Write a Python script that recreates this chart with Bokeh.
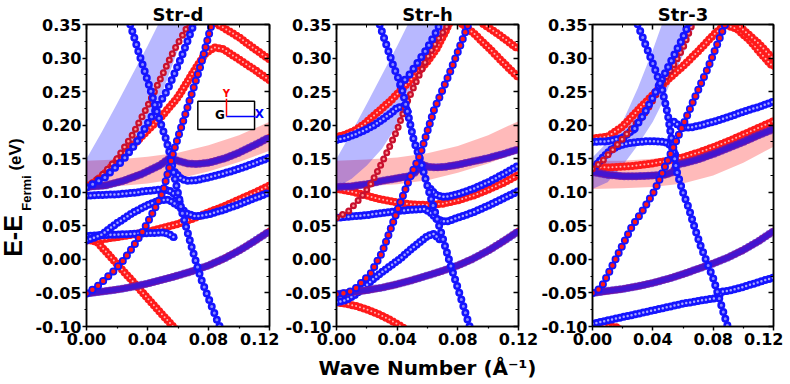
import math
from bokeh.plotting import figure
from bokeh.layouts import row
from bokeh.models import FixedTicker, PrintfTickFormatter, LinearAxis, Label, Range1d
from bokeh.core.properties import value
from bokeh.embed import file_html
from bokeh.resources import INLINE

# ---------------- axes / text ----------------
TITLES = ["Str-d", "Str-h", "Str-3"]
X_LABEL = "Wave Number (\u00c5\u207b\u00b9)"
Y_LABEL_PARTS = ["E-E", "Fermi", "(eV)"]
X_TICKS = [0.0, 0.04, 0.08, 0.12]
X_MINOR = [0.02, 0.06, 0.10]
Y_TICKS = [-0.10, -0.05, 0.0, 0.05, 0.10, 0.15, 0.20, 0.25, 0.30, 0.35]
Y_MINOR = [-0.075, -0.025, 0.025, 0.075, 0.125, 0.175, 0.225, 0.275, 0.325]
KG = [0.0, 0.01, 0.02, 0.03, 0.04, 0.05, 0.06, 0.07, 0.08, 0.09, 0.10, 0.11, 0.12]

# ---------------- panel Str-d ----------------
D_PAR_E = [-0.051, -0.048, -0.045, -0.041, -0.036, -0.030, -0.024, -0.017, -0.009, 0.001, 0.013, 0.027, 0.042]
D_DIRAC_K = [0.0, 0.0066, 0.018, 0.024, 0.030, 0.037, 0.044, 0.050, 0.057, 0.066, 0.075, 0.082, 0.086]
D_DIRAC_E = [-0.051, -0.0415, -0.017, -0.002, 0.017, 0.042, 0.072, 0.10, 0.16, 0.225, 0.29, 0.35, 0.38]
D_RDESC_K = [0.0, 0.007, 0.02, 0.03, 0.04, 0.05, 0.06]
D_RDESC_E = [0.03, 0.026, -0.007, -0.032, -0.058, -0.083, -0.108]
D_RRISE_E = [0.028, 0.030, 0.033, 0.037, 0.041, 0.047, 0.053, 0.061, 0.070, 0.079, 0.089, 0.099, 0.110]
D_BFLAT_K = [0.0, 0.01, 0.02, 0.03, 0.04, 0.05, 0.054, 0.058]
D_BFLAT_E = [0.035, 0.036, 0.037, 0.038, 0.039, 0.040, 0.038, 0.032]
D_BSTEEP_K = [0.026, 0.029, 0.034, 0.040, 0.0466, 0.052, 0.0547, 0.058, 0.0627, 0.069, 0.0748, 0.080, 0.0857, 0.090]
D_BSTEEP_E = [0.37, 0.348, 0.31, 0.267, 0.217, 0.18, 0.157, 0.12, 0.070, 0.018, -0.027, -0.058, -0.091, -0.115]
D_BHUMP_K = [0.0, 0.01, 0.02, 0.03, 0.04, 0.048, 0.054, 0.06, 0.066, 0.072, 0.08, 0.09, 0.10, 0.11, 0.12]
D_BHUMP_E = [0.028, 0.037, 0.054, 0.069, 0.081, 0.088, 0.089, 0.080, 0.068, 0.064, 0.067, 0.074, 0.082, 0.091, 0.100]
D_B095_K = [0.0, 0.01, 0.02, 0.03, 0.04, 0.048, 0.054, 0.058, 0.062]
D_B095_E = [0.095, 0.096, 0.097, 0.099, 0.102, 0.104, 0.103, 0.097, 0.086]
D_B152_K = [0.058, 0.062, 0.066, 0.072, 0.08, 0.09, 0.10, 0.11, 0.12]
D_B152_E = [0.13, 0.12, 0.117, 0.118, 0.122, 0.128, 0.135, 0.143, 0.152]
D_P108_K = [0.0, 0.012, 0.024, 0.036, 0.048, 0.054, 0.06, 0.066, 0.072, 0.08, 0.09, 0.10, 0.11, 0.12]
D_P108_E = [0.108, 0.110, 0.117, 0.127, 0.140, 0.150, 0.147, 0.143, 0.142, 0.144, 0.150, 0.159, 0.170, 0.182]
D_RPEAK_K = [0.0, 0.01, 0.02, 0.03, 0.04, 0.05, 0.06, 0.07, 0.078, 0.084, 0.09, 0.10, 0.11, 0.12]
D_RPEAK_E = [0.107, 0.123, 0.147, 0.169, 0.192, 0.215, 0.242, 0.279, 0.307, 0.316, 0.313, 0.298, 0.283, 0.267]
D_RTOP_K = [0.083, 0.086, 0.09, 0.10, 0.11, 0.12]
D_RTOP_E = [0.356, 0.35, 0.345, 0.331, 0.314, 0.298]
D_RCHAIN_K = [0.0, 0.01, 0.02, 0.03, 0.04, 0.047, 0.057, 0.066, 0.07]
D_RCHAIN_E = [0.107, 0.125, 0.15, 0.185, 0.228, 0.262, 0.31, 0.346, 0.365]
D_BCHAIN_K = [0.0, 0.012, 0.024, 0.033, 0.042, 0.053, 0.062, 0.070, 0.074]
D_BCHAIN_E = [0.107, 0.122, 0.148, 0.175, 0.21, 0.252, 0.30, 0.348, 0.37]
D_BSH_K = [0.0, 0.01, 0.02, 0.03, 0.04, 0.047, 0.05, 0.058, 0.066, 0.07]
D_BSH_LO = [0.107, 0.12, 0.14, 0.165, 0.20, 0.232, 0.25, 0.30, 0.35, 0.37]
D_BSH_HI = [0.15, 0.19, 0.232, 0.275, 0.318, 0.35, 0.365, 0.40, 0.44, 0.46]
D_RSH_K = [0.0, 0.02, 0.04, 0.06, 0.08, 0.10, 0.12]
D_RSH_LO = [0.107, 0.109, 0.113, 0.120, 0.131, 0.145, 0.162]
D_RSH_HI = [0.147, 0.149, 0.153, 0.159, 0.170, 0.185, 0.205]

# inset (G-X / G-Y directions) in Str-d
INSET_BOX = [0.0730, 0.1102, 0.1935, 0.2357]      # left, right, bottom, top
INSET_ORIGIN = [0.0918, 0.2129]
INSET_Y_TOP = 0.2393
INSET_X_END = 0.1108

# ---------------- panel Str-h ----------------
H_PAR_E = [-0.052, -0.049, -0.046, -0.042, -0.037, -0.031, -0.024, -0.017, -0.009, 0.001, 0.013, 0.027, 0.042]
H_DIRAC_K = [0.0, 0.006, 0.0114, 0.0224, 0.030, 0.0418, 0.0484, 0.055, 0.0642, 0.0752, 0.0862, 0.09]
H_DIRAC_E = [-0.052, -0.05, -0.046, -0.0215, 0.010, 0.083, 0.122, 0.155, 0.222, 0.281, 0.346, 0.37]
H_BHUMP_K = [0.0, 0.006, 0.012, 0.018, 0.024, 0.030, 0.036, 0.042, 0.048, 0.054, 0.060, 0.064, 0.068]
H_BHUMP_E = [-0.064, -0.061, -0.053, -0.042, -0.030, -0.019, -0.009, 0.001, 0.013, 0.024, 0.035, 0.038, 0.03]
H_RLOW_K = [0.0, 0.006, 0.012, 0.018, 0.024, 0.030, 0.036, 0.042, 0.046]
H_RLOW_E = [-0.064, -0.066, -0.069, -0.073, -0.078, -0.084, -0.091, -0.099, -0.105]
H_BSTEEP_K = [0.026, 0.029, 0.0378, 0.0422, 0.0466, 0.051, 0.0554, 0.062, 0.0686, 0.075, 0.0818, 0.0872, 0.09]
H_BSTEEP_E = [0.37, 0.346, 0.286, 0.262, 0.222, 0.177, 0.147, 0.093, 0.043, -0.007, -0.056, -0.096, -0.115]
H_RUP_K = [0.0, 0.006, 0.012, 0.018, 0.024, 0.030, 0.036, 0.042, 0.048, 0.054, 0.060, 0.066, 0.072, 0.076]
H_RUP_E = [0.182, 0.186, 0.192, 0.201, 0.213, 0.225, 0.237, 0.251, 0.265, 0.28, 0.295, 0.314, 0.34, 0.36]
H_BUP_K = [0.0, 0.006, 0.012, 0.018, 0.024, 0.030, 0.036, 0.040, 0.044, 0.048]
H_BUP_E = [0.178, 0.181, 0.186, 0.192, 0.199, 0.208, 0.218, 0.226, 0.228, 0.22]
H_BCHAIN_K = [0.042, 0.048, 0.054, 0.060, 0.066, 0.070]
H_BCHAIN_E = [0.26, 0.275, 0.295, 0.315, 0.34, 0.36]
H_RCHAIN_K = [0.0, 0.008, 0.016, 0.022, 0.028, 0.034, 0.040, 0.047, 0.054, 0.060, 0.066, 0.073, 0.076]
H_RCHAIN_E = [0.062, 0.072, 0.092, 0.11, 0.135, 0.163, 0.193, 0.237, 0.272, 0.301, 0.325, 0.348, 0.36]
H_P108_K = [0.0, 0.01, 0.02, 0.03, 0.04, 0.048, 0.052, 0.056, 0.06, 0.066, 0.072, 0.08, 0.09, 0.10, 0.11, 0.12]
H_P108_E = [0.108, 0.109, 0.112, 0.117, 0.121, 0.124, 0.13, 0.142, 0.138, 0.137, 0.138, 0.141, 0.146, 0.151, 0.157, 0.164]
H_RMID_E = [0.105, 0.101, 0.095, 0.089, 0.085, 0.082, 0.081, 0.083, 0.088, 0.095, 0.104, 0.114, 0.126]
H_B062_K = [0.0, 0.01, 0.02, 0.03, 0.04, 0.05, 0.058, 0.062, 0.066, 0.072, 0.08, 0.09, 0.10, 0.11, 0.12]
H_B062_E = [0.062, 0.064, 0.066, 0.069, 0.072, 0.074, 0.075, 0.07, 0.06, 0.056, 0.062, 0.070, 0.080, 0.091, 0.102]
H_BDIP_K = [0.062, 0.066, 0.072, 0.08, 0.09, 0.10, 0.11, 0.12]
H_BDIP_E = [0.105, 0.095, 0.093, 0.097, 0.105, 0.115, 0.127, 0.140]
H_RTOP1_K = [0.081, 0.083, 0.09, 0.10, 0.11, 0.12]
H_RTOP1_E = [0.355, 0.35, 0.338, 0.316, 0.293, 0.271]
H_RTOP2_K = [0.095, 0.097, 0.102, 0.11, 0.12]
H_RTOP2_E = [0.355, 0.35, 0.343, 0.330, 0.313]
H_BSH_K = [0.0, 0.01, 0.02, 0.03, 0.04, 0.047, 0.05, 0.058, 0.066, 0.07]
H_BSH_LO = [0.107, 0.12, 0.14, 0.165, 0.20, 0.232, 0.25, 0.30, 0.35, 0.37]
H_BSH_HI = [0.15, 0.19, 0.232, 0.275, 0.318, 0.35, 0.365, 0.40, 0.44, 0.46]
H_RSH_K = [0.0, 0.02, 0.04, 0.06, 0.08, 0.10, 0.12]
H_RSH_LO = [0.107, 0.109, 0.112, 0.118, 0.129, 0.143, 0.160]
H_RSH_HI = [0.147, 0.149, 0.152, 0.158, 0.169, 0.185, 0.206]

# ---------------- panel Str-3 ----------------
S_PAR_E = [-0.050, -0.047, -0.044, -0.040, -0.035, -0.029, -0.022, -0.014, -0.006, 0.003, 0.014, 0.027, 0.042]
S_DIRAC_K = [0.0, 0.003, 0.006, 0.0126, 0.0192, 0.0259, 0.0325, 0.0413, 0.050, 0.060, 0.068, 0.0767, 0.0877, 0.092]
S_DIRAC_E = [-0.05, -0.047, -0.041, -0.012, 0.018, 0.048, 0.070, 0.103, 0.148, 0.200, 0.242, 0.286, 0.349, 0.37]
S_BSTEEP_K = [0.027, 0.030, 0.036, 0.041, 0.046, 0.050, 0.053, 0.056, 0.060, 0.064, 0.068, 0.072, 0.076, 0.080, 0.084, 0.088, 0.091]
S_BSTEEP_E = [0.37, 0.35, 0.315, 0.286, 0.255, 0.215, 0.17, 0.13, 0.10, 0.075, 0.045, 0.018, -0.005, -0.028, -0.058, -0.088, -0.11]
S_BLOW_K = [0.0, 0.01, 0.02, 0.03, 0.04, 0.05, 0.06, 0.07, 0.078, 0.082, 0.086, 0.09, 0.10, 0.11, 0.12]
S_BLOW_E = [-0.096, -0.091, -0.086, -0.081, -0.076, -0.071, -0.066, -0.062, -0.059, -0.058, -0.048, -0.047, -0.041, -0.034, -0.027]
S_RLOW_K = [0.0, 0.006, 0.012, 0.018]
S_RLOW_E = [-0.097, -0.098, -0.100, -0.102]
S_RUP_K = [0.0, 0.01, 0.02, 0.03, 0.04, 0.05, 0.06, 0.07, 0.08, 0.088, 0.096, 0.104, 0.112, 0.12]
S_RUP_E = [0.18, 0.183, 0.198, 0.222, 0.245, 0.268, 0.288, 0.31, 0.334, 0.35, 0.343, 0.327, 0.306, 0.286]
S_RTOP_K = [0.094, 0.10, 0.11, 0.12]
S_RTOP_E = [0.355, 0.342, 0.322, 0.298]
S_BUP_K = [0.0, 0.01, 0.02, 0.028]
S_BUP_E = [0.175, 0.176, 0.181, 0.195]
S_BCHAIN_K = [0.028, 0.035, 0.042, 0.050, 0.059, 0.0634, 0.067]
S_BCHAIN_E = [0.195, 0.22, 0.25, 0.286, 0.326, 0.349, 0.37]
S_BMID_K = [0.0, 0.006, 0.012, 0.018, 0.024, 0.030, 0.036, 0.042, 0.048, 0.052, 0.055]
S_BMID_E = [0.133, 0.150, 0.163, 0.170, 0.173, 0.175, 0.176, 0.176, 0.175, 0.17, 0.155]
S_BRIGHT_K = [0.054, 0.058, 0.062, 0.066, 0.072, 0.08, 0.09, 0.10, 0.11, 0.12]
S_BRIGHT_E = [0.205, 0.198, 0.196, 0.197, 0.200, 0.205, 0.212, 0.220, 0.227, 0.235]
S_RMID_E = [0.138, 0.137, 0.138, 0.140, 0.143, 0.147, 0.152, 0.159, 0.167, 0.176, 0.186, 0.196, 0.206]
S_P130_K = [0.0, 0.01, 0.02, 0.03, 0.04, 0.048, 0.053, 0.057, 0.062, 0.07, 0.08, 0.09, 0.10, 0.11, 0.12]
S_P130_E = [0.130, 0.126, 0.124, 0.124, 0.125, 0.126, 0.130, 0.142, 0.144, 0.149, 0.157, 0.166, 0.175, 0.185, 0.194]
S_RCHAIN_K = [0.0, 0.006, 0.012, 0.018, 0.024, 0.030, 0.036, 0.042, 0.048, 0.054, 0.060, 0.066, 0.068]
S_RCHAIN_E = [0.135, 0.145, 0.16, 0.175, 0.19, 0.205, 0.222, 0.245, 0.268, 0.29, 0.315, 0.35, 0.36]
S_BSH_K = [0.0, 0.01, 0.02, 0.03, 0.04, 0.046, 0.05, 0.06, 0.068, 0.072]
S_BSH_LO = [0.105, 0.115, 0.14, 0.17, 0.205, 0.232, 0.255, 0.305, 0.35, 0.37]
S_BSH_HI = [0.152, 0.175, 0.205, 0.255, 0.312, 0.35, 0.375, 0.43, 0.47, 0.49]
S_RSH_K = [0.0, 0.02, 0.04, 0.06, 0.08, 0.10, 0.12]
S_RSH_LO = [0.105, 0.106, 0.108, 0.113, 0.125, 0.144, 0.168]
S_RSH_HI = [0.147, 0.147, 0.150, 0.155, 0.167, 0.187, 0.212]

RED = "#ff1a1a"
BLUE = "#1414ff"
TXT = "DejaVu Sans"
STRIP_W = 32
FRAME_TOP, FRAME_BOTTOM = 24, 326


def draw_band(p, k, e, kind):
    c = dict(line_cap="round", line_join="round")
    if kind == "red":
        p.line(k, e, line_color=RED, line_width=5, **c)
        p.line(k, e, line_color=RED, line_width=8, line_dash="0 4", **c)
        p.line(k, e, line_color="#ffb4b4", line_width=2, line_dash="0 4", **c)
    elif kind == "blue":
        p.line(k, e, line_color=BLUE, line_width=5, **c)
        p.line(k, e, line_color=BLUE, line_width=8, line_dash="0 4", **c)
        p.line(k, e, line_color="#a8a8ff", line_width=2.5, line_dash="0 4", **c)
    elif kind == "purple":
        p.line(k, e, line_color=RED, line_width=7, **c)
        p.line(k, e, line_color=BLUE, line_width=8, line_dash="0 4", line_alpha=0.6, **c)
        p.line(k, e, line_color=BLUE, line_width=5, line_alpha=0.5, **c)
    elif kind == "bdots":
        p.line(k, e, line_color=BLUE, line_width=8, line_dash="0 7", **c)
        p.line(k, e, line_color="#8c8cff", line_width=3, line_dash="0 7", **c)
    elif kind == "pdots":
        p.line(k, e, line_color=BLUE, line_width=8, line_dash="0 7", **c)
        p.line(k, e, line_color=RED, line_width=4.5, line_dash="0 7", **c)
    elif kind == "rdots":
        p.line(k, e, line_color="#c8102e", line_width=7, line_dash="0 7", **c)
        p.line(k, e, line_color="#ff9a9a", line_width=2.5, line_dash="0 7", **c)


def make_fig(min_left, fw, min_right, title):
    p = figure(frame_width=fw, frame_height=302, min_border_left=min_left,
               min_border_right=min_right, min_border_top=24, min_border_bottom=50,
               x_range=Range1d(0, 0.12), y_range=Range1d(-0.10, 0.35),
               output_backend="svg", toolbar_location=None,
               background_fill_color="white", border_fill_color="white")
    p.xgrid.visible = False
    p.ygrid.visible = False
    p.outline_line_color = "black"
    p.outline_line_width = 1.5
    p.title.text = title
    p.title.align = "center"
    p.title.text_font = TXT
    p.title.text_font_style = "bold"
    p.title.text_font_size = "18px"
    p.title.text_color = "black"
    p.title.standoff = 0
    p.title.offset = 0
    bottom_ax = p.below[0]
    left_ax = p.left[0]
    for ax, tk, mn, sto in ((bottom_ax, X_TICKS, X_MINOR, 2), (left_ax, Y_TICKS, Y_MINOR, 1)):
        ax.ticker = FixedTicker(ticks=tk, minor_ticks=mn)
        ax.formatter = PrintfTickFormatter(format="%.2f")
        ax.axis_line_width = 1.5
        ax.major_tick_line_width = 1.5
        ax.minor_tick_line_width = 1.2
        ax.major_tick_out = 4
        ax.major_tick_in = 0
        ax.minor_tick_out = 2
        ax.minor_tick_in = 0
        ax.major_label_standoff = sto
        ax.major_label_text_font = TXT
        ax.major_label_text_font_style = "bold"
        ax.major_label_text_font_size = "16px"
        ax.major_label_text_color = "black"
    top = LinearAxis(ticker=FixedTicker(ticks=X_TICKS, minor_ticks=X_MINOR),
                     major_label_text_font_size="1px", major_label_text_color=None,
                     major_label_standoff=0,
                     major_tick_in=5, major_tick_out=0, minor_tick_in=3, minor_tick_out=0,
                     axis_line_width=1.5, major_tick_line_width=1.5)
    right = LinearAxis(ticker=FixedTicker(ticks=Y_TICKS, minor_ticks=Y_MINOR),
                       major_label_text_font_size="1px", major_label_text_color=None,
                       major_label_standoff=0,
                       major_tick_in=5, major_tick_out=0, minor_tick_in=3, minor_tick_out=0,
                       axis_line_width=1.5, major_tick_line_width=1.5)
    p.add_layout(top, "above")
    p.add_layout(right, "right")
    return p, bottom_ax


def shade(p, bk, blo, bhi, rk, rlo, rhi):
    p.varea(x=rk, y1=rlo, y2=rhi, fill_color="#ff0000", fill_alpha=0.27)
    p.varea(x=bk, y1=blo, y2=bhi, fill_color="#0000ff", fill_alpha=0.28)


# ---------------- y title strip: its frame spans the same rows as the panels ----------------
# y data = minus the page row, x data = page column
yt = figure(frame_width=STRIP_W, frame_height=FRAME_BOTTOM - FRAME_TOP,
            min_border_left=0, min_border_right=0, min_border_top=FRAME_TOP, min_border_bottom=50,
            x_range=Range1d(0, STRIP_W), y_range=Range1d(-FRAME_BOTTOM, -FRAME_TOP),
            output_backend="svg", toolbar_location=None, x_axis_location=None, y_axis_location=None,
            background_fill_color="white", border_fill_color="white")
yt.outline_line_color = None
yt.xgrid.visible = False
yt.ygrid.visible = False
ang = math.pi / 2
yt.text(x=[12], y=[-235.5], text=[Y_LABEL_PARTS[0]], angle=ang, text_font=value("Liberation Sans"),
        text_font_style="bold", text_font_size=value("25px"), text_color="black",
        text_align="center", text_baseline="middle")
yt.text(x=[25.5], y=[-192.5], text=[Y_LABEL_PARTS[1]], angle=ang, text_font=value("Liberation Sans"),
        text_font_style="bold", text_font_size=value("13px"), text_color="black",
        text_align="center", text_baseline="middle")
yt.text(x=[14.5], y=[-154], text=[Y_LABEL_PARTS[2]], angle=ang, text_font=value("Liberation Sans"),
        text_font_style="bold", text_font_size=value("17px"), text_color="black",
        text_align="center", text_baseline="middle")

# ---------------- Str-d ----------------
p1, _ = make_fig(86 - STRIP_W, 183, 10, TITLES[0])
shade(p1, D_BSH_K, D_BSH_LO, D_BSH_HI, D_RSH_K, D_RSH_LO, D_RSH_HI)
for k, e, kind in [
    (D_RDESC_K, D_RDESC_E, "red"), (KG, D_RRISE_E, "red"), (D_RPEAK_K, D_RPEAK_E, "red"),
    (D_RTOP_K, D_RTOP_E, "red"),
    (D_BFLAT_K, D_BFLAT_E, "blue"), (D_BHUMP_K, D_BHUMP_E, "blue"), (D_B095_K, D_B095_E, "blue"),
    (D_B152_K, D_B152_E, "blue"),
    (KG, D_PAR_E, "purple"), (D_P108_K, D_P108_E, "purple"),
    (D_RCHAIN_K, D_RCHAIN_E, "rdots"), (D_BCHAIN_K, D_BCHAIN_E, "bdots"),
    (D_BSTEEP_K, D_BSTEEP_E, "bdots"), (D_DIRAC_K, D_DIRAC_E, "pdots")]:
    draw_band(p1, k, e, kind)

# inset
p1.quad(left=[INSET_BOX[0]], right=[INSET_BOX[1]], bottom=[INSET_BOX[2]], top=[INSET_BOX[3]],
        fill_color="white", line_color="black", line_width=1.5)
p1.line([INSET_ORIGIN[0], INSET_ORIGIN[0]], [INSET_ORIGIN[1], INSET_Y_TOP], line_color="#ff0000", line_width=1.5)
p1.line([INSET_ORIGIN[0], INSET_X_END], [INSET_ORIGIN[1], INSET_ORIGIN[1]], line_color="#0000ff", line_width=1.5)
p1.add_layout(Label(x=INSET_ORIGIN[0], y=INSET_Y_TOP, text="Y", text_font=TXT, text_font_style="bold",
                    text_font_size="10px", text_color="#ff0000", text_align="center"))
p1.add_layout(Label(x=INSET_ORIGIN[0] - 0.0043, y=0.2040, text="G", text_font=TXT, text_font_style="bold",
                    text_font_size="12px", text_color="black", text_align="center"))
p1.add_layout(Label(x=INSET_X_END + 0.0026, y=0.2055, text="X", text_font=TXT, text_font_style="bold",
                    text_font_size="12px", text_color="#0000ff", text_align="center"))

# ---------------- Str-h ----------------
p2, p2_bottom = make_fig(57, 182, 20, TITLES[1])
shade(p2, H_BSH_K, H_BSH_LO, H_BSH_HI, H_RSH_K, H_RSH_LO, H_RSH_HI)
for k, e, kind in [
    (H_RLOW_K, H_RLOW_E, "red"), (H_RUP_K, H_RUP_E, "red"), (KG, H_RMID_E, "red"),
    (H_RTOP1_K, H_RTOP1_E, "red"), (H_RTOP2_K, H_RTOP2_E, "red"),
    (H_BHUMP_K, H_BHUMP_E, "blue"), (H_BUP_K, H_BUP_E, "blue"), (H_B062_K, H_B062_E, "blue"),
    (H_BDIP_K, H_BDIP_E, "blue"),
    (KG, H_PAR_E, "purple"), (H_P108_K, H_P108_E, "purple"),
    (H_RCHAIN_K, H_RCHAIN_E, "rdots"), (H_BCHAIN_K, H_BCHAIN_E, "bdots"),
    (H_BSTEEP_K, H_BSTEEP_E, "bdots"), (H_DIRAC_K, H_DIRAC_E, "pdots")]:
    draw_band(p2, k, e, kind)
p2_bottom.axis_label = X_LABEL
p2_bottom.axis_label_text_font = TXT
p2_bottom.axis_label_text_font_style = "bold"
p2_bottom.axis_label_text_font_size = "20px"
p2_bottom.axis_label_text_color = "black"
p2_bottom.axis_label_standoff = 8

# ---------------- Str-3 ----------------
p3, _ = make_fig(54, 181, 10, TITLES[2])
shade(p3, S_BSH_K, S_BSH_LO, S_BSH_HI, S_RSH_K, S_RSH_LO, S_RSH_HI)
for k, e, kind in [
    (S_RLOW_K, S_RLOW_E, "red"), (S_RUP_K, S_RUP_E, "red"), (S_RTOP_K, S_RTOP_E, "red"),
    (KG, S_RMID_E, "red"),
    (S_BLOW_K, S_BLOW_E, "blue"), (S_BUP_K, S_BUP_E, "blue"), (S_BMID_K, S_BMID_E, "blue"),
    (S_BRIGHT_K, S_BRIGHT_E, "blue"),
    (KG, S_PAR_E, "purple"), (S_P130_K, S_P130_E, "purple"),
    (S_RCHAIN_K, S_RCHAIN_E, "rdots"), (S_BCHAIN_K, S_BCHAIN_E, "bdots"),
    (S_BSTEEP_K, S_BSTEEP_E, "bdots"), (S_DIRAC_K, S_DIRAC_E, "pdots")]:
    draw_band(p3, k, e, kind)

layout = row(yt, p1, p2, p3)
open("out.html", "w").write(file_html(layout, INLINE))
